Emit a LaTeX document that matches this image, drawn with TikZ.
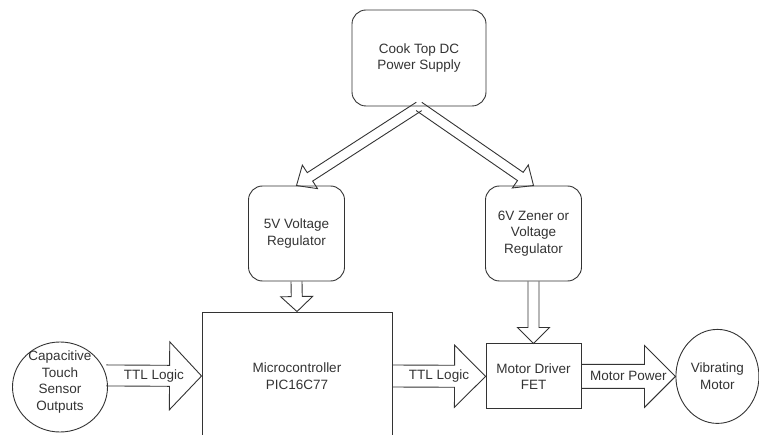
\documentclass[tikz,border=0pt]{standalone}
\usepackage{fontspec}
\setmainfont{Liberation Sans}
\usetikzlibrary{shapes.geometric, positioning, calc}

% hollow block arrow: start, tip, shaft half width, head half width, head length
\newcommand{\fatarrow}[5]{%
  \coordinate (fa-base) at ($(#2)!#5!(#1)$);
  \draw[conn] ($(#1)!#3!90:(#2)$) -- ($(fa-base)!#3!90:(#2)$) -- ($(fa-base)!#4!90:(#2)$) -- (#2)
    -- ($(fa-base)!#4!-90:(#2)$) -- ($(fa-base)!#3!-90:(#2)$) -- ($(#1)!#3!-90:(#2)$);
}

\begin{document}
\begin{tikzpicture}[x=1pt, y=-1pt, node distance=62pt,
    every node/.style={font=\fontsize{13.5}{16.5}\selectfont, text=black!80},
    box/.style={draw=black!80, line width=0.9pt, align=center},
    conn/.style={draw=black!80, line width=0.9pt, line join=miter}]
    \useasboundingbox (0,0) rectangle (759,435);

    \node[box, rounded corners=14pt, minimum width=134pt, minimum height=96pt]
        (supply) at (419,58) {Cook Top DC\\Power Supply};
    \node[box, rounded corners=14pt, minimum width=96pt, minimum height=95pt]
        (reg5) at (296.5,233.5) {5V Voltage\\Regulator};
    \node[box, rounded corners=14pt, minimum width=96pt, minimum height=95pt]
        (reg6) at (533.5,233.5) {6V Zener or\\Voltage\\Regulator};
    \node[box, minimum width=190pt, minimum height=128pt]
        (micro) at (297,376) {Microcontroller\\PIC16C77};
    \node[box, minimum width=95pt, minimum height=65pt, below=62pt of reg6]
        (fet) {Motor Driver\\FET};
    \node[box, ellipse, inner sep=0pt, minimum width=83pt, minimum height=94pt, right=94pt of fet]
        (vib) {Vibrating\\Motor};
    \node[box, ellipse, inner sep=0pt, minimum width=95pt, minimum height=90pt,
        label={[name=capt, align=center, yshift=5pt]center:Capacitive\\Touch\\Sensor\\Outputs}]
        (cap) at (60,387) {};

    % power
    \fatarrow{supply.south}{reg5.north}{5pt}{14pt}{16pt}
    \fatarrow{supply.south}{reg6.north}{5pt}{14pt}{16pt}
    \fatarrow{reg5.south}{micro.north}{5.5pt}{16pt}{15pt}
    \fatarrow{reg6.south}{fet.north}{5.5pt}{16pt}{16pt}

    % signals
    \fatarrow{cap.14}{micro.west}{10.5pt}{34pt}{32pt}
    \fatarrow{micro.east}{fet.west}{11pt}{31pt}{31pt}
    \fatarrow{fet.east}{vib.west}{12pt}{31pt}{31pt}

    \node (ttlin)  at ($(cap.14)!0.5!(micro.west)$) {TTL Logic};
    \node (ttlout) at ($(micro.east)!0.5!(fet.west)$) {TTL Logic};
    \node (mpower) at ($(fet.east)!0.5!(vib.west)$) {Motor Power};
\end{tikzpicture}
\end{document}
